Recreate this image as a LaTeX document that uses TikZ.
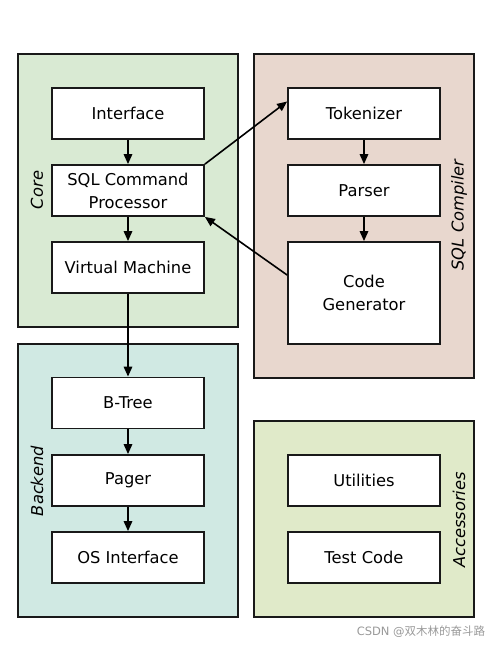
\documentclass[tikz,border=0pt]{standalone}
\usepackage{fontspec}
\setmainfont{DejaVu Sans}
\newfontfamily\cjkfont{Noto Sans CJK SC}
\usetikzlibrary{arrows.meta}
\definecolor{corec}{RGB}{217,234,211}
\definecolor{compc}{RGB}{232,215,206}
\definecolor{backc}{RGB}{208,233,227}
\definecolor{accc}{RGB}{224,234,201}
\tikzset{
  group/.style={draw=black!90, line width=1.8pt},
  comp/.style={draw=black!90, fill=white, line width=1.8pt, align=center, font=\fontsize{16.3}{23}\selectfont},
  glabel/.style={rotate=90, font=\fontsize{16.3}{19}\selectfont\itshape, inner sep=0pt},
  arr/.style={line width=1.6pt, -{Triangle[length=10pt,width=8.5pt]}}
}
\begin{document}
\begin{tikzpicture}[x=1pt,y=-1pt]
\useasboundingbox (0,0) rectangle (500,648);
% groups
\draw[group, fill=corec] (18,54) rectangle (238,327);
\draw[group, fill=compc] (254,54) rectangle (474,378);
\draw[group, fill=backc] (18,344) rectangle (238,617);
\draw[group, fill=accc] (254,421) rectangle (474,617);
% group labels
\node[glabel] (lcore) at (37,190) {Core};
\node[glabel] (lcomp) at (459,215) {SQL Compiler};
\node[glabel] (lback) at (37,481) {Backend};
\node[glabel] (lacc) at (459,520) {Accessories};
% components
\node[comp, minimum width=152pt, minimum height=51pt] (iface) at (128,113.5) {Interface};
\node[comp, minimum width=152pt, minimum height=51pt] (sqlcp) at (128,190.5) {SQL Command\\Processor};
\node[comp, minimum width=152pt, minimum height=51pt] (vm) at (128,267.5) {Virtual Machine};
\node[comp, minimum width=152pt, minimum height=51pt] (tok) at (364,113.5) {Tokenizer};
\node[comp, minimum width=152pt, minimum height=51pt] (parser) at (364,190.5) {Parser};
\node[comp, minimum width=152pt, minimum height=102pt] (codegen) at (364,293) {Code\\Generator};
\node[comp, minimum width=152pt, minimum height=51pt] (btree) at (128,403) {B-Tree};
\node[comp, minimum width=152pt, minimum height=51pt] (pager) at (128,480.5) {Pager};
\node[comp, minimum width=152pt, minimum height=51pt] (osif) at (128,557.5) {OS Interface};
\node[comp, minimum width=152pt, minimum height=51pt] (util) at (364,480.5) {Utilities};
\node[comp, minimum width=152pt, minimum height=51pt] (test) at (364,557.5) {Test Code};
% connectors
\draw[arr] (iface) -- (sqlcp);
\draw[arr] (sqlcp) -- (vm);
\draw[arr] (vm) -- (btree);
\draw[arr] (btree) -- (pager);
\draw[arr] (pager) -- (osif);
\draw[arr] (tok) -- (parser);
\draw[arr] (parser) -- (codegen);
\draw[arr] (sqlcp.north east) -- ([yshift=12pt]tok.west);
\draw[arr] ([yshift=18pt]codegen.west) -- (sqlcp.south east);
% watermark
\node[text=black!40, font=\fontsize{11.5}{13}\selectfont, inner sep=0pt] (wm) at (421,632) {CSDN @{\cjkfont 双木林的奋斗路}};
\end{tikzpicture}
\end{document}
